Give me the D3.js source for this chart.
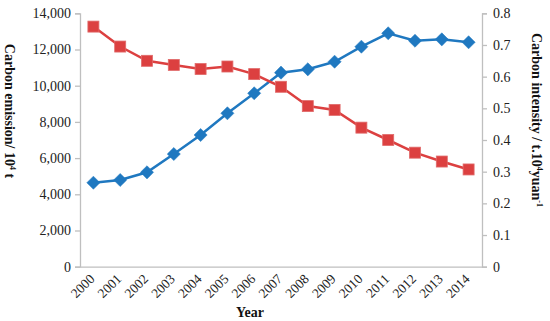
<!DOCTYPE html>
<html><head><meta charset="utf-8">
<script src="https://cdn.jsdelivr.net/npm/d3@7"></script>
<style>body{margin:0;background:#fff}svg{display:block}</style>
</head><body>
<script>
const years = ["2000","2001","2002","2003","2004","2005","2006","2007","2008","2009","2010","2011","2012","2013","2014"];
const emission = [4640,4790,5215,6225,7275,8475,9580,10720,10905,11325,12155,12895,12485,12560,12400];
const intensity = [0.758,0.695,0.650,0.637,0.624,0.632,0.608,0.568,0.507,0.495,0.439,0.400,0.360,0.332,0.307];
const leftTicks = [0,2000,4000,6000,8000,10000,12000,14000];
const rightTicks = [0,0.1,0.2,0.3,0.4,0.5,0.6,0.7,0.8];

const W=550,H=321;
const m={l:80,r:68,t:13.3,b:54.3};
const svg=d3.select("body").append("svg").attr("width",W).attr("height",H);
const x=d3.scaleBand().domain(years).range([m.l,W-m.r]);
const yL=d3.scaleLinear().domain([0,14000]).range([H-m.b,m.t]);
const yR=d3.scaleLinear().domain([0,0.8]).range([H-m.b,m.t]);
const axisColor="#bfbfbf", font="'Liberation Serif','Times New Roman',serif";

const gl=svg.append("g").attr("transform",`translate(${m.l},0)`)
  .call(d3.axisLeft(yL).tickValues(leftTicks).tickFormat(d3.format(",")).tickSizeOuter(0).tickSize(5).tickPadding(4));
const gr=svg.append("g").attr("transform",`translate(${W-m.r},0)`)
  .call(d3.axisRight(yR).tickValues(rightTicks).tickFormat(d=>d===0?"0":d3.format(".1f")(d)).tickSizeOuter(0).tickSize(5).tickPadding(6));
const gx=svg.append("g").attr("transform",`translate(0,${H-m.b})`)
  .call(d3.axisBottom(x).tickSize(0).tickSizeOuter(0).tickPadding(0));
[gl,gr,gx].forEach(g=>{
  g.selectAll("path,line").attr("stroke",axisColor).attr("stroke-width",1.3);
  g.selectAll("text").attr("font-family",font).attr("font-size",14).attr("fill","#222");
});
gx.selectAll("text").attr("font-size",13.5).attr("text-anchor","end").attr("dy",0).attr("y",0)
  .attr("transform","translate(2,13) rotate(-45)");

// lines
const blue="#1f78c0", red="#dc4040";
const lineE=d3.line().x((d,i)=>x(years[i])+x.bandwidth()/2).y(d=>yL(d));
const lineI=d3.line().x((d,i)=>x(years[i])+x.bandwidth()/2).y(d=>yR(d));
svg.append("path").datum(emission).attr("d",lineE).attr("fill","none").attr("stroke",blue).attr("stroke-width",2.5);
svg.append("path").datum(intensity).attr("d",lineI).attr("fill","none").attr("stroke",red).attr("stroke-width",2.5);
svg.selectAll(".dia").data(emission).join("path")
  .attr("d",d3.symbol(d3.symbolDiamond2,110))
  .attr("transform",(d,i)=>`translate(${x(years[i])+x.bandwidth()/2},${yL(d)})`)
  .attr("fill",blue).attr("stroke",blue).attr("stroke-width",0.5);
svg.selectAll(".sq").data(intensity).join("rect")
  .attr("x",(d,i)=>x(years[i])+x.bandwidth()/2-5.5).attr("y",d=>yR(d)-5.5)
  .attr("width",11).attr("height",11).attr("fill",red).attr("stroke","#e06a6a").attr("stroke-width",0.8);

// titles
const tl=svg.append("text").attr("transform","translate(5,111) rotate(90)").attr("text-anchor","middle")
  .attr("font-family",font).attr("font-weight","bold").attr("font-size",14).attr("fill","#111");
tl.append("tspan").text("Carbon emission/ 10");
tl.append("tspan").text("4").attr("font-size",8).attr("dy",-5);
tl.append("tspan").text(" t").attr("dy",5);
const tr=svg.append("text").attr("transform","translate(532,120) rotate(90)").attr("text-anchor","middle")
  .attr("font-family",font).attr("font-weight","bold").attr("font-size",14).attr("fill","#111");
tr.append("tspan").text("Carbon intensity / t.10");
tr.append("tspan").text("4").attr("font-size",8).attr("dy",-5);
tr.append("tspan").text("yuan").attr("dy",5);
tr.append("tspan").text("-1").attr("font-size",8).attr("dy",-5);
svg.append("text").attr("x",250).attr("y",317).attr("text-anchor","middle")
  .attr("font-family",font).attr("font-weight","bold").attr("font-size",14).attr("fill","#111").text("Year");
</script>
</body></html>
